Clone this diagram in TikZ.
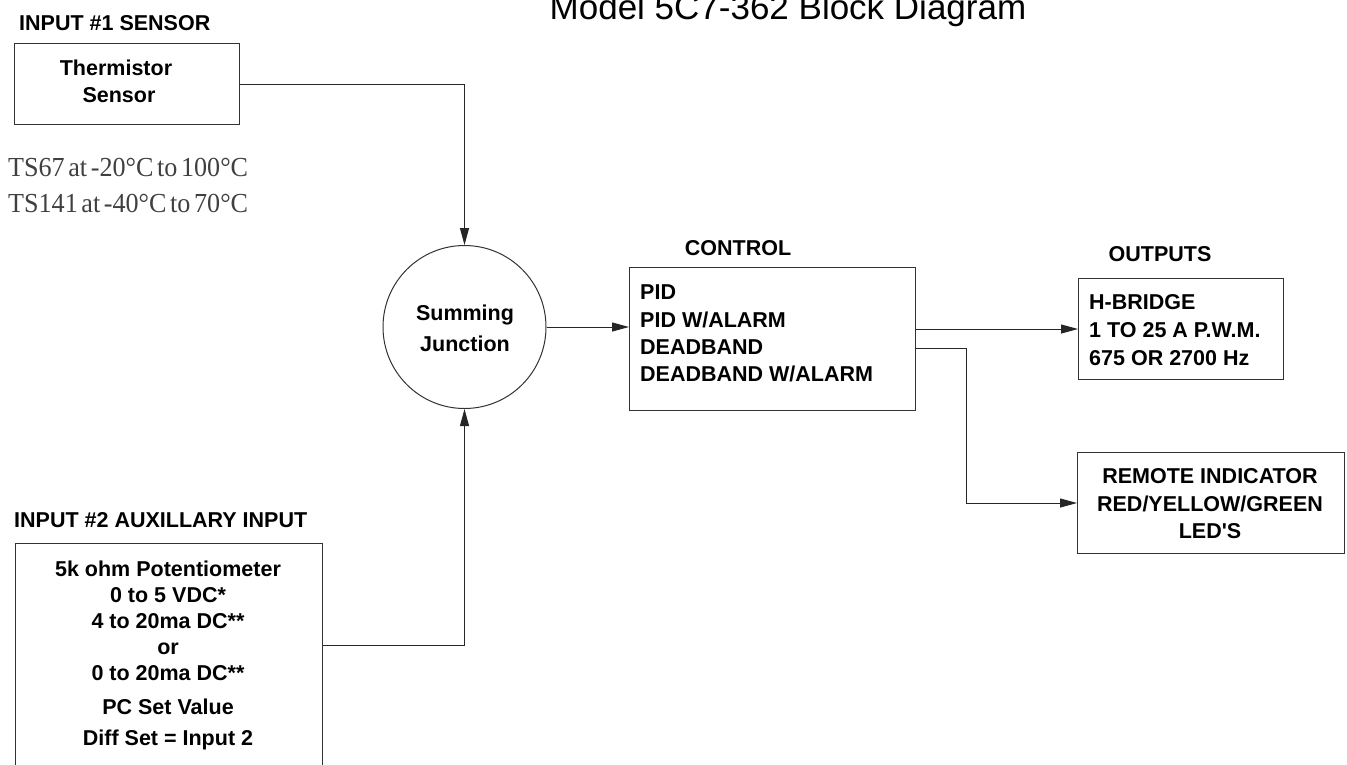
\documentclass[tikz,border=0pt]{standalone}
\usepackage{fontspec}
\setmainfont{Liberation Sans}
\newfontfamily\plainsans{Liberation Sans}
\newfontfamily\tsfont[WordSpace=0.55,FakeStretch=0.95]{Liberation Serif}
\usetikzlibrary{arrows.meta}
\begin{document}
\begin{tikzpicture}[x=1pt,y=-1pt,
  box/.style={draw=black!80, line width=1pt, inner sep=0pt, anchor=north west},
  lbl/.style={font=\fontsize{21.5}{26}\selectfont\bfseries, inner sep=0pt, anchor=base west},
  ctr/.style={font=\fontsize{21.5}{26}\selectfont\bfseries, inner sep=0pt, anchor=base},
  note/.style={font=\tsfont\fontsize{27.5}{32}\selectfont, text=black!75, inner sep=0pt, anchor=base west},
  wire/.style={draw=black!85, line width=1pt},
  arr/.style={wire, -{Triangle[length=17pt,width=9pt]}}]
\useasboundingbox (0,0) rectangle (1347,764);

% title
\node[font=\fontsize{35}{40}\selectfont, anchor=base, inner sep=0pt] (title) at (788,19) {Model 5C7-362 Block Diagram};

% input 1
\node[lbl] (in1lbl) at (19,30) {INPUT \#1 SENSOR};
\node[box, minimum width=225pt, minimum height=81pt] (therm) at (14,43) {};
\node[ctr] (th1) at (116,75) {Thermistor};
\node[ctr] (th2) at (119,102) {Sensor};
\node[note] (ts1) at (8,176) {TS67 at -20°C to 100°C};
\node[note] (ts2) at (8,212.5) {TS141 at -40°C to 70°C};

% summing junction
\node[draw=black!80, line width=1pt, circle, minimum size=163pt, inner sep=0pt] (sum) at (464.5,327) {};
\node[ctr] (s1) at (465,320) {Summing};
\node[ctr] (s2) at (465,351) {Junction};

% control
\node[ctr] (ctrllbl) at (738,255) {CONTROL};
\node[box, minimum width=286pt, minimum height=143pt] (ctrl) at (629,267) {};
\node[lbl] (c1) at (640,299) {PID};
\node[lbl] (c2) at (640,327) {PID W/ALARM};
\node[lbl] (c3) at (640,354) {DEADBAND};
\node[lbl] (c4) at (640,381) {DEADBAND W/ALARM};

% outputs
\node[ctr] (outlbl) at (1160,261) {OUTPUTS};
\node[box, minimum width=205pt, minimum height=101pt] (hb) at (1078,278) {};
\node[lbl] (h1) at (1089,309) {H-BRIDGE};
\node[lbl] (h2) at (1089,337) {1 TO 25 A P.W.M.};
\node[lbl] (h3) at (1089,365) {675 OR 2700 Hz};

\node[box, minimum width=267pt, minimum height=101pt] (rem) at (1077,452) {};
\node[ctr] (r1) at (1210,483) {REMOTE INDICATOR};
\node[ctr] (r2) at (1210,511) {RED/YELLOW/GREEN};
\node[ctr] (r3) at (1210,538) {LED{\plainsans\bfseries '}S};

% input 2
\node[lbl] (in2lbl) at (14,527) {INPUT \#2 AUXILLARY INPUT};
\node[box, minimum width=307pt, minimum height=260pt] (aux) at (15,543) {};
\node[ctr] (a1) at (168,576) {5k ohm Potentiometer};
\node[ctr] (a2) at (168,602) {0 to 5 VDC*};
\node[ctr] (a3) at (168,628) {4 to 20ma DC**};
\node[ctr] (a4) at (168,654) {or};
\node[ctr] (a5) at (168,680) {0 to 20ma DC**};
\node[ctr] (a6) at (168,714) {PC Set Value};
\node[ctr] (a7) at (168,745) {Diff Set = Input 2};

% connectors
\coordinate (auxy) at (0,645);
\coordinate (lowy) at (0,348);
\coordinate (bend) at (966,348);
\draw[arr] (therm.east) -| (sum.north);
\draw[arr] (aux.north east |- auxy) -| (sum.south);
\draw[arr] (sum.east) -- (ctrl.west |- sum.east);
\draw[arr] (ctrl.east |- hb.west) -- (hb.west);
\draw[arr] (ctrl.east |- lowy) -- (bend) |- (rem.west);
\end{tikzpicture}
\end{document}
